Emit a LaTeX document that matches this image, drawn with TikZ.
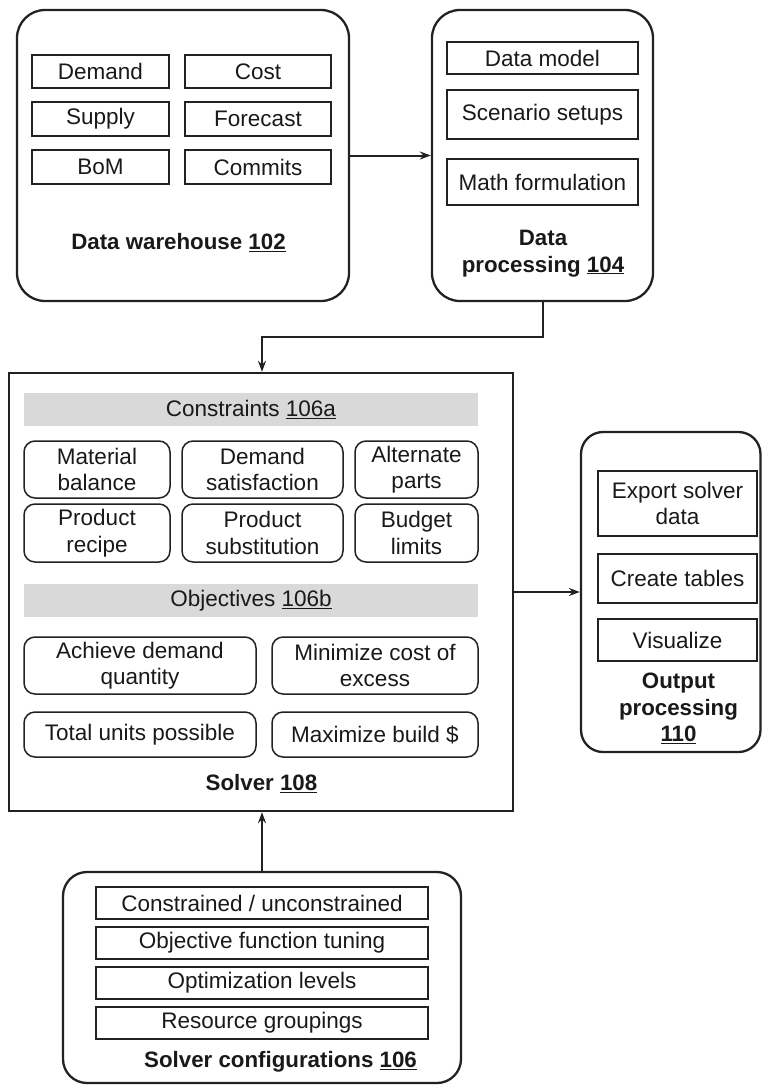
\documentclass[tikz,border=0pt]{standalone}
\usepackage{fontspec}
\setmainfont{Liberation Sans}
\usetikzlibrary{arrows.meta,calc}
\definecolor{ln}{HTML}{222222}
\definecolor{bandgray}{HTML}{D9D9D9}
\tikzset{
  txt/.style={font=\fontsize{22.5}{26.5}\selectfont, text=black!90, align=center, inner sep=0pt},
  lbl/.style={font=\fontsize{22.3}{26.5}\selectfont\bfseries, text=black!90, align=center, inner sep=0pt},
  bigbox/.style={draw=ln, line width=2.3pt, rounded corners=28pt, inner sep=0pt},
  sqbox/.style={draw=ln, line width=2.3pt, inner sep=0pt},
  item/.style={txt, draw=ln, line width=1.5pt},
  ritem/.style={txt, draw=ln, line width=1.5pt, rounded corners=11pt},
  band/.style={txt, fill=bandgray},
  arr/.style={draw=ln, line width=2pt, -{Stealth[length=11pt,width=8pt]}},
}
\begin{document}
\begin{tikzpicture}[x=1pt,y=-1pt]
\useasboundingbox (0,0) rectangle (762,1085);
% ---------------- Data warehouse
\node[bigbox, minimum width=332pt, minimum height=291pt] (dw) at (183,155.5) {};
\node[item, minimum width=137pt, minimum height=33pt] (demand) at (100.5,71.5) {Demand};
\node[item, minimum width=146pt, minimum height=33pt] (cost) at (258,71.5) {Cost};
\node[item, minimum width=137pt, minimum height=34pt] (supply) at (100.5,119) {Supply};
\node[item, minimum width=146pt, minimum height=34pt] (forecast) at (258,119) {Forecast};
\node[item, minimum width=137pt, minimum height=34pt] (bom) at (100.5,167) {BoM};
\node[item, minimum width=146pt, minimum height=34pt] (commits) at (258,167) {Commits};
\node[lbl] (dwl) at (178.5,243) {Data warehouse \underline{102}};
% ---------------- Data processing
\node[bigbox, minimum width=221pt, minimum height=291pt] (dp) at (542.5,155.5) {};
\node[item, minimum width=191pt, minimum height=32pt] (dm) at (542.5,58) {Data model};
\node[item, minimum width=191pt, minimum height=49pt] (ss) at (542.5,114.5) {Scenario setups};
\node[item, minimum width=191pt, minimum height=46pt] (mf) at (542.5,182) {Math formulation};
\node[lbl] (dpl) at (543,253.5) {Data\\processing \underline{104}};
% ---------------- Solver
\node[sqbox, minimum width=504pt, minimum height=438pt] (solver) at (261,592) {};
\node[band, minimum width=454pt, minimum height=33pt] (cons) at (251,409.5) {Constraints \underline{106a}};
\node[ritem, minimum width=146pt, minimum height=57pt] (mb) at (97,469.5) {Material\\balance};
\node[ritem, minimum width=161pt, minimum height=57pt] (ds) at (262.5,469.5) {Demand\\satisfaction};
\node[ritem, minimum width=123pt, minimum height=57pt] (ap) at (416.5,469.5) {Alternate\\parts};
\node[ritem, minimum width=146pt, minimum height=58pt] (pr) at (97,533) {Product\\recipe};
\node[ritem, minimum width=161pt, minimum height=58pt] (ps) at (262.5,533) {Product\\substitution};
\node[ritem, minimum width=123pt, minimum height=58pt] (bl) at (416.5,533) {Budget\\limits};
\node[band, minimum width=454pt, minimum height=33pt] (obj) at (251,600.5) {Objectives \underline{106b}};
\node[ritem, minimum width=232pt, minimum height=57pt] (adq) at (140,665.5) {Achieve demand\\quantity};
\node[ritem, minimum width=206pt, minimum height=57pt] (mce) at (375,665.5) {Minimize cost of\\excess};
\node[ritem, minimum width=232pt, minimum height=45pt] (tup) at (140,734.5) {Total units possible};
\node[ritem, minimum width=206pt, minimum height=45pt] (mbd) at (375,734.5) {Maximize build \$};
\node[lbl] (sl) at (261.5,784) {Solver \underline{108}};
% ---------------- Output processing
\node[bigbox, rounded corners=22pt, minimum width=179.5pt, minimum height=320pt] (op) at (670.75,592) {};
\node[item, minimum width=159pt, minimum height=65pt] (es) at (677.5,503.5) {Export solver\\data};
\node[item, minimum width=159pt, minimum height=49pt] (ct) at (677.5,578.5) {Create tables};
\node[item, minimum width=159pt, minimum height=42pt] (vis) at (677.5,640) {Visualize};
\node[lbl] (opl) at (678.5,708.5) {Output\\processing\\\underline{110}};
% ---------------- Solver configurations
\node[bigbox, rounded corners=24pt, minimum width=398pt, minimum height=211pt] (cfg) at (262,977.5) {};
\node[item, minimum width=332pt, minimum height=32pt] (c1) at (262,903) {Constrained / unconstrained};
\node[item, minimum width=332pt, minimum height=32pt] (c2) at (262,943) {Objective function tuning};
\node[item, minimum width=332pt, minimum height=32pt] (c3) at (262,983) {Optimization levels};
\node[item, minimum width=332pt, minimum height=32pt] (c4) at (262,1023) {Resource groupings};
\node[lbl] (cfgl) at (280.5,1062) {Solver configurations \underline{106}};
% ---------------- Connectors
\draw[arr] (dw.east) -- (dp.west);
\coordinate (k) at (262,337);
\draw[arr] (dp.south) |- (k) -- (k |- solver.north);
\draw[arr] (solver.east) -- (op.west);
\draw[arr] (cfg.north) -- (cfg.north |- solver.south);
\end{tikzpicture}
\end{document}
